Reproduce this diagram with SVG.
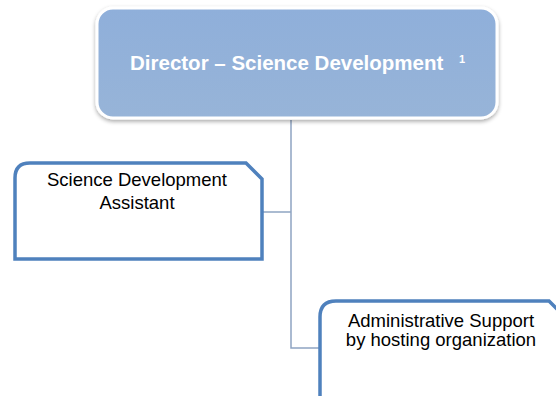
<svg xmlns="http://www.w3.org/2000/svg" width="556" height="396" viewBox="0 0 556 396">
<style>
.box{fill:#fff;stroke:#4F81BD;stroke-width:3.5}
.lbl{font-family:"Liberation Sans",Arial,sans-serif;font-size:18.5px;fill:#000;text-anchor:middle}
.conn{fill:none;stroke:#8EA4C2;stroke-width:1.5}
</style>
<defs>
<filter id="sh" x="-10%" y="-10%" width="120%" height="130%">
<feGaussianBlur in="SourceAlpha" stdDeviation="2"/>
<feOffset dx="0" dy="2" result="b"/>
<feComponentTransfer><feFuncA type="linear" slope="0.35"/></feComponentTransfer>
<feMerge><feMergeNode/><feMergeNode in="SourceGraphic"/></feMerge>
</filter>
<linearGradient id="g" x1="0" y1="0" x2="0" y2="1">
<stop offset="0" stop-color="#8FAFDA"/>
<stop offset="1" stop-color="#97B4D8"/>
</linearGradient>
</defs>
<rect width="556" height="396" fill="#fff"/>
<g id="connectors">
<path class="conn" d="M291,120 V348 H321"/>
<path class="conn" d="M262,212 H291"/>
</g>
<g id="director">
<rect x="97" y="8" width="400" height="110" rx="16" fill="url(#g)" stroke="#fff" stroke-width="3" filter="url(#sh)"/>
<text x="130" y="70" font-family="Liberation Sans,Arial,sans-serif" font-size="20.5" font-weight="bold" fill="#fff">Director – Science Development</text>
<text x="459" y="63" font-family="Liberation Sans,Arial,sans-serif" font-size="11" font-weight="bold" fill="#fff">1</text>
</g>
<g id="assistant">
<path class="box" d="M15,178 Q15,163 30,163 L246,163 L262,179 L262,259 L15,259 Z"/>
<text class="lbl" x="137" y="186">Science Development</text>
<text class="lbl" x="137" y="209">Assistant</text>
</g>
<g id="admin">
<path class="box" d="M320,317 Q320,301 336,301 L549,301 L566,318 L566,410 L320,410 Z"/>
<text class="lbl" x="441" y="327">Administrative Support</text>
<text class="lbl" x="441" y="346">by hosting organization</text>
</g>
</svg>
